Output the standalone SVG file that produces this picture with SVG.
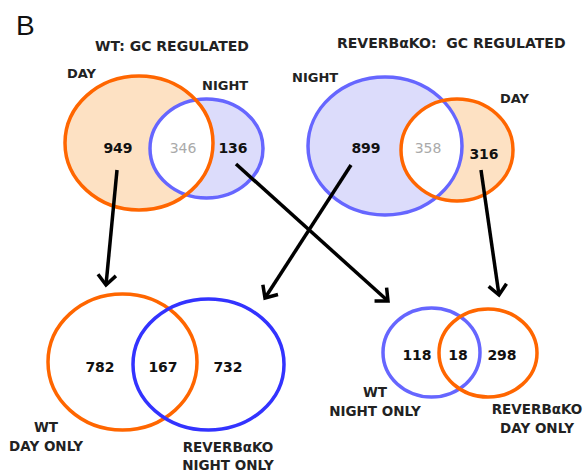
<svg xmlns="http://www.w3.org/2000/svg" width="584" height="475" viewBox="0 0 584 475">
  <style>
    .lbl { font-family: "DejaVu Sans", Verdana, sans-serif; font-weight: bold; font-size: 13px; fill: #222; }
    .ttl { font-family: "DejaVu Sans", Verdana, sans-serif; font-weight: bold; font-size: 14px; fill: #222; white-space: pre; }
    .num { font-family: "DejaVu Sans", Verdana, sans-serif; font-weight: bold; font-size: 14px; fill: #111; text-anchor: middle; }
    .num-shared { fill: #aaaaaa; font-weight: normal; }
    .sub { font-family: "DejaVu Sans", Verdana, sans-serif; font-weight: bold; font-size: 13.5px; fill: #222; text-anchor: middle; }
    .day { stroke: #ff6600; stroke-width: 3.5; }
    .night { stroke: #6666ff; stroke-width: 3.5; }
    .day-fill { fill: #fde1c3; }
    .night-fill { fill: #dcdcfb; }
    .arrow { stroke: #000; stroke-width: 3.5; fill: none; marker-end: url(#chevron); }
  </style>
  <defs>
    <marker id="chevron" markerUnits="userSpaceOnUse" viewBox="-14 -12 16 24" markerWidth="16" markerHeight="24" refX="0" refY="0" orient="auto" overflow="visible">
      <path d="M-10,-9 L0,0 L-10,9" fill="none" stroke="#000" stroke-width="3.5" stroke-linejoin="miter"/>
    </marker>
    <clipPath id="clip-wt-day"><ellipse cx="139" cy="143" rx="74" ry="67"/></clipPath>
    <clipPath id="clip-ko-night"><ellipse cx="385" cy="146" rx="77" ry="69"/></clipPath>
  </defs>

  <rect width="584" height="475" fill="#fff"/>

  <text x="16" y="35" font-family="Liberation Sans, Arial, sans-serif" font-size="28" fill="#111">B</text>

  <!-- WT: GC regulated -->
  <g id="wt-gc">
    <text class="ttl" x="95" y="51">WT: GC REGULATED</text>
    <ellipse class="day-fill" cx="139" cy="143" rx="74" ry="67"/>
    <ellipse class="night-fill" cx="206.5" cy="148.5" rx="56.5" ry="49.5"/>
    <ellipse cx="206.5" cy="148.5" rx="56.5" ry="49.5" fill="#fff" clip-path="url(#clip-wt-day)"/>
    <ellipse class="night" cx="206.5" cy="148.5" rx="56.5" ry="49.5" fill="none"/>
    <ellipse class="day" cx="139" cy="143" rx="74" ry="67" fill="none"/>
    <text class="lbl" x="67" y="78">DAY</text>
    <text class="lbl" x="202" y="90">NIGHT</text>
    <text class="num" x="118" y="153">949</text>
    <text class="num num-shared" x="183" y="153">346</text>
    <text class="num" x="233" y="153">136</text>
  </g>

  <!-- REVERBaKO: GC regulated -->
  <g id="ko-gc">
    <text class="ttl" x="337" y="48">REVERBαKO:  GC REGULATED</text>
    <ellipse class="night-fill" cx="385" cy="146" rx="77" ry="69"/>
    <ellipse class="day-fill" cx="457" cy="150" rx="56" ry="51"/>
    <ellipse cx="457" cy="150" rx="56" ry="51" fill="#fff" clip-path="url(#clip-ko-night)"/>
    <ellipse class="night" cx="385" cy="146" rx="77" ry="69" fill="none"/>
    <ellipse class="day" cx="457" cy="150" rx="56" ry="51" fill="none"/>
    <text class="lbl" x="292" y="82">NIGHT</text>
    <text class="lbl" x="500" y="103">DAY</text>
    <text class="num" x="366" y="153">899</text>
    <text class="num num-shared" x="428" y="153">358</text>
    <text class="num" x="484" y="159">316</text>
  </g>

  <!-- WT day only vs REVERBaKO night only -->
  <g id="wt-day-ko-night">
    <ellipse class="day" cx="122.5" cy="362" rx="74.5" ry="68" fill="none"/>
    <ellipse cx="208.5" cy="364.5" rx="75.5" ry="65.5" fill="none" stroke="#3333ff" stroke-width="3.5"/>
    <text class="num" x="100" y="372">782</text>
    <text class="num" x="163" y="372">167</text>
    <text class="num" x="228" y="372">732</text>
    <text class="sub" x="46" y="432">WT</text>
    <text class="sub" x="46" y="451">DAY ONLY</text>
    <text class="sub" x="228" y="452">REVERBαKO</text>
    <text class="sub" x="228" y="470">NIGHT ONLY</text>
  </g>

  <!-- WT night only vs REVERBaKO day only -->
  <g id="wt-night-ko-day">
    <ellipse class="night" cx="431.5" cy="352.5" rx="48.5" ry="44.5" fill="none"/>
    <ellipse class="day" cx="488" cy="353" rx="49" ry="44" fill="none"/>
    <text class="num" x="417" y="360">118</text>
    <text class="num" x="458" y="360">18</text>
    <text class="num" x="502" y="360">298</text>
    <text class="sub" x="375" y="397">WT</text>
    <text class="sub" x="375" y="416">NIGHT ONLY</text>
    <text class="sub" x="537" y="414">REVERBαKO</text>
    <text class="sub" x="537" y="433">DAY ONLY</text>
  </g>

  <g id="connectors">
    <line class="arrow" x1="117" y1="170" x2="106" y2="285"/>
    <line class="arrow" x1="236" y1="164" x2="388" y2="301"/>
    <line class="arrow" x1="351" y1="165" x2="265" y2="298"/>
    <line class="arrow" x1="481" y1="170" x2="499" y2="295"/>
  </g>
</svg>
